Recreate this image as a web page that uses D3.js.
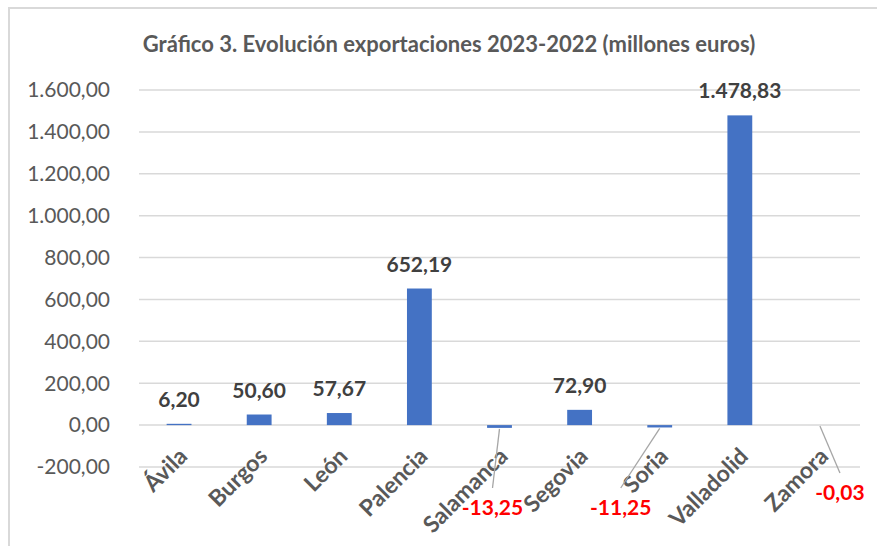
<!DOCTYPE html>
<html>
<head>
<meta charset="utf-8">
<script src="https://cdn.jsdelivr.net/npm/d3@7"></script>
<style>
  body { margin:0; background:#fff; }
  svg { display:block; font-family: Lato, "Open Sans", sans-serif; }
</style>
</head>
<body>
<div id="chart"></div>
<script>
// datos
let provincias = ['Ávila','Burgos','León','Palencia','Salamanca','Segovia','Soria','Valladolid','Zamora'];
let variacion = [6.20, 50.60, 57.67, 652.19, -13.25, 72.90, -11.25, 1478.83, -0.03];
let ticksY = [-200, 0, 200, 400, 600, 800, 1000, 1200, 1400, 1600];
let titulo = 'Gráfico 3. Evolución exportaciones 2023-2022 (millones euros)';

let W = 877, H = 546;
let es = d3.formatLocale({decimal:',', thousands:'.', grouping:[3], currency:['','€'], minus:'-'});
let fmt = es.format(',.2f');

let svg = d3.select('#chart').append('svg')
    .attr('width', W).attr('height', H);

// marco
svg.append('path')
    .attr('d', 'M9,' + H + 'V8H' + W)
    .attr('fill','none')
    .attr('stroke','#d9d9d9')
    .attr('stroke-width',2);

let x = d3.scaleBand().domain(provincias).range([139, 860]).paddingInner(0.69).paddingOuter(0.345);
let y = d3.scaleLinear().domain([-200, 1600]).range([467, 90]);

// titulo
svg.append('text')
    .attr('x', 449).attr('y', 52)
    .attr('text-anchor','middle')
    .attr('font-size', 22).attr('font-weight','bold')
    .attr('fill','#595959')
    .text(titulo);

// rejilla
svg.append('g').selectAll('line').data(ticksY)
    .enter().append('line')
    .attr('x1',139).attr('x2',860)
    .attr('y1',d=>y(d)).attr('y2',d=>y(d))
    .attr('stroke','#d9d9d9').attr('stroke-width',1.5);

// eje y
svg.append('g').selectAll('text').data(ticksY)
    .enter().append('text')
    .attr('x',110).attr('y',d=>y(d))
    .attr('dy','0.35em')
    .attr('text-anchor','end')
    .attr('font-size',21)
    .attr('fill','#595959')
    .text(d=>fmt(d));

// barras
svg.append('g').selectAll('rect').data(variacion)
    .enter().append('rect')
    .attr('x',(d,i)=>x(provincias[i]))
    .attr('width',x.bandwidth())
    .attr('y',d=>y(Math.max(0,d)))
    .attr('height',d=>Math.abs(y(d)-y(0)))
    .attr('fill','#4472C4');

// etiquetas categorias
svg.append('g').selectAll('text').data(provincias)
    .enter().append('text')
    .attr('transform',d=>'translate(' + (x(d)+x.bandwidth()/2+4) + ',452) rotate(-45)')
    .attr('text-anchor','end')
    .attr('dy','0.35em')
    .attr('font-size',23).attr('font-weight','bold')
    .attr('fill','#595959')
    .text(d=>d);

// etiquetas de datos
let cx = i => x(provincias[i]) + x.bandwidth()/2;
// desplazamiento de las etiquetas negativas (con linea guia)
let guia = {
    'Salamanca': {dx:-7, ly:488, ty:515},
    'Soria': {dx:-39, ly:488, ty:515},
    'Zamora': {dx:20, ly:473, ty:500}
};

let lbl = svg.append('g');
variacion.forEach((d,i)=>{
    let p = provincias[i];
    if (d >= 0){
        lbl.append('text')
            .attr('x',cx(i)).attr('y',y(d)-17)
            .attr('text-anchor','middle')
            .attr('font-size',21).attr('font-weight','bold')
            .attr('fill','#404040')
            .text(fmt(d));
    } else {
        let g = guia[p];
        lbl.append('line')
            .attr('x1',cx(i)).attr('y1',y(d)+1)
            .attr('x2',cx(i)+g.dx).attr('y2',g.ly)
            .attr('stroke','#a6a6a6').attr('stroke-width',1.3);
        lbl.append('text')
            .attr('x',cx(i)+g.dx).attr('y',g.ty)
            .attr('text-anchor','middle')
            .attr('font-size',21).attr('font-weight','bold')
            .attr('fill','#FF0000')
            .text(fmt(d));
    }
});
</script>
</body>
</html>
